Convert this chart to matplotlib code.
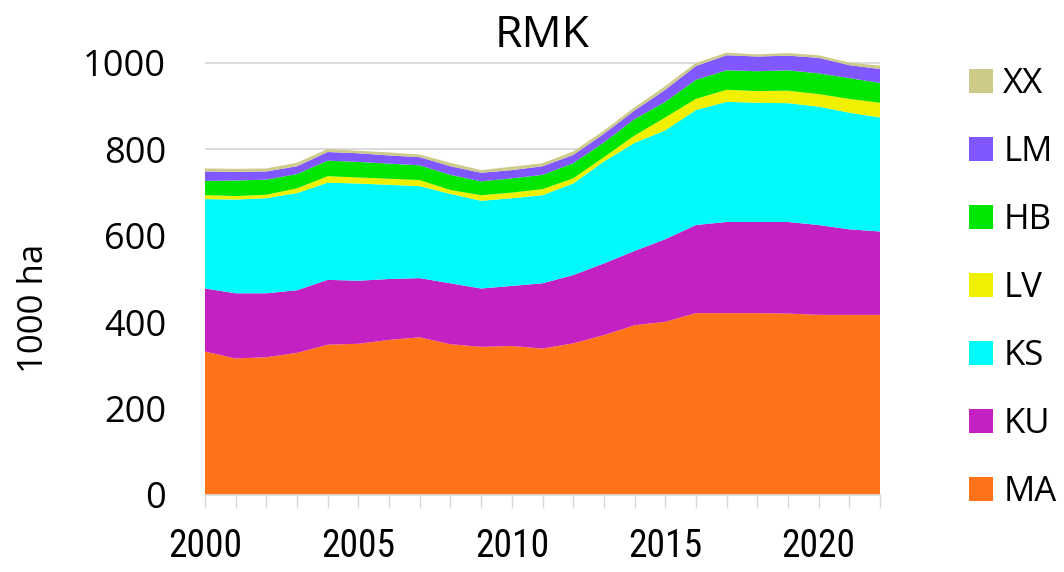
import matplotlib
matplotlib.use("Agg")
import matplotlib.pyplot as plt
from matplotlib import font_manager as fm
from matplotlib.patches import Patch

years = list(range(2000, 2023))
MA = [332, 316, 319, 329, 348, 350, 359, 365, 349, 343, 345, 339, 351, 370, 393, 401, 421, 421, 421, 420, 417, 417, 417]
KU = [146, 151, 148, 145, 150, 146, 141, 137, 141, 135, 139, 151, 158, 166, 172, 191, 204, 211, 211, 212, 208, 198, 193]
KS = [207, 217, 220, 225, 225, 225, 218, 213, 207, 203, 203, 204, 212, 236, 250, 252, 266, 278, 276, 275, 274, 270, 264]
LV = [9, 8, 8, 11, 15, 14, 14, 14, 9, 13, 13, 14, 12, 10, 17, 30, 26, 28, 27, 29, 29, 32, 34]
HB = [33, 36, 35, 33, 36, 36, 35, 34, 35, 32, 33, 33, 35, 34, 38, 36, 44, 45, 46, 47, 48, 48, 46]
LM = [22, 20, 19, 18, 20, 20, 19, 19, 20, 20, 19, 20, 19, 20, 20, 28, 32, 35, 34, 34, 36, 30, 32]
XX = [5, 5, 5, 6, 5, 4, 5, 4, 6, 4, 6, 5, 6, 5, 5, 6, 5, 4, 3, 4, 4, 4, 6]

series_names = ["MA", "KU", "KS", "LV", "HB", "LM", "XX"]
series_vals = [MA, KU, KS, LV, HB, LM, XX]
colors = ["#FF7318", "#C421C2", "#00FAFA", "#F0F000", "#00E600", "#8158FF", "#CDCA8A"]
title = "RMK"
ylabel = "1000 ha"
yticks = [0, 200, 400, 600, 800, 1000]
xlabel_years = [2000, 2005, 2010, 2015, 2020]

names = {f.name for f in fm.fontManager.ttflist}
main_font = "Open Sans" if "Open Sans" in names else "DejaVu Sans"
narrow_font = None
for cand in ["Liberation Sans Narrow", "Roboto Condensed", "Open Sans Condensed",
             "Noto Sans Condensed", "DejaVu Sans Condensed"]:
    if cand in names:
        narrow_font = cand
        break
if narrow_font is None:
    extra = sorted(n for n in names if ("Narrow" in n or "Condensed" in n))
    narrow_font = extra[0] if extra else None
if narrow_font is None:
    narrow_font, xfs = "Liberation Sans", 25
else:
    xfs = 27

W, H = 1064, 572
fig = plt.figure(figsize=(W / 100, H / 100), dpi=100)
x0, x1 = 205, 880
y0 = 495
ymax = 1050
ytop = y0 - ymax * 0.432
ax = fig.add_axes([x0 / W, 1 - y0 / H, (x1 - x0) / W, (y0 - ytop) / H])

ax.stackplot(years, *series_vals, colors=colors, labels=series_names, linewidth=0)
tot = [sum(v) for v in zip(*series_vals)]
ax.plot(years, tot, color="#CDCA8A", lw=1.2, zorder=3)

ax.set_xlim(2000, 2022)
ax.set_ylim(0, ymax)
ax.set_yticks(yticks)
ax.set_yticklabels([str(t) for t in yticks], fontsize=26, family=main_font)
ax.set_xticks(years)
ax.set_xticklabels([str(y) if y in xlabel_years else "" for y in years],
                   fontsize=xfs, family=narrow_font)
ax.grid(axis="y", color="#D9D9D9", lw=1.3, zorder=0)
ax.set_axisbelow(True)
for s in ["top", "right", "left"]:
    ax.spines[s].set_visible(False)
ax.spines["bottom"].set_color("#D9D9D9")
ax.spines["bottom"].set_linewidth(1.3)
ax.tick_params(axis="y", length=0, pad=28)
ax.tick_params(axis="x", length=9.5, width=1, color="#D9D9D9", pad=14, direction="out")

fig.text(34 / W, 1 - 308 / H, ylabel, rotation=90, ha="center", va="center",
         fontsize=25, family=main_font)
fig.text((x0 + x1) / 2 / W, 1 - 36 / H, title, ha="center", va="center",
         fontsize=32, family=main_font)

handles = [Patch(facecolor=c, edgecolor="none") for c in colors][::-1]
leg = fig.legend(handles, series_names[::-1], loc="upper left",
                 bbox_to_anchor=(969 / W, 1 - 67 / H), frameon=False,
                 prop={"family": main_font, "size": 25},
                 handlelength=0.69, handleheight=0.69, labelspacing=0.98,
                 handletextpad=0.3, borderpad=0, borderaxespad=0)

fig.savefig("out.png", dpi=100)
